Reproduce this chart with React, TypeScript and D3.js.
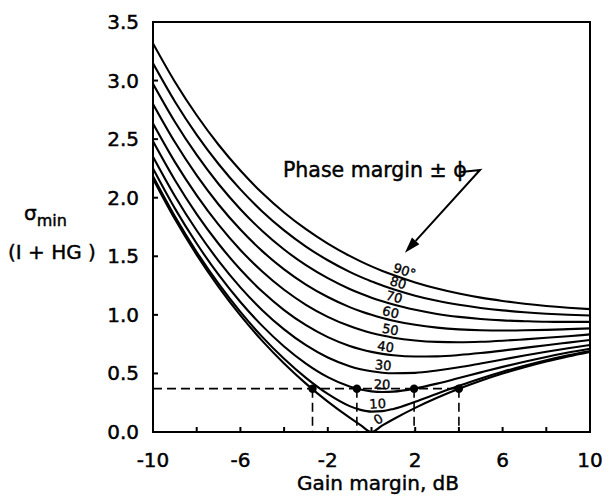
import React from "react";
import * as d3 from "d3";

const gainDb = [-10, -9, -8, -7, -6, -5, -4, -3, -2, -1, -0.5, 0, 0.5, 1, 2, 3, 4, 5, 6, 7, 8, 9, 10];

const phase0 = [2.162, 1.818, 1.512, 1.239, 0.995, 0.778, 0.585, 0.413, 0.259, 0.122, 0.059, 0.0, 0.056, 0.109, 0.206, 0.292, 0.369, 0.438, 0.499, 0.553, 0.602, 0.645, 0.684];
const phase10 = [2.184, 1.842, 1.537, 1.266, 1.025, 0.812, 0.625, 0.462, 0.325, 0.221, 0.189, 0.174, 0.178, 0.197, 0.258, 0.327, 0.394, 0.457, 0.514, 0.565, 0.612, 0.654, 0.691];
const phase20 = [2.249, 1.909, 1.609, 1.343, 1.11, 0.906, 0.73, 0.584, 0.468, 0.388, 0.362, 0.347, 0.342, 0.345, 0.372, 0.413, 0.461, 0.509, 0.556, 0.6, 0.641, 0.678, 0.711];
const phase30 = [2.35, 2.015, 1.72, 1.461, 1.235, 1.04, 0.876, 0.741, 0.636, 0.562, 0.536, 0.518, 0.506, 0.501, 0.505, 0.525, 0.552, 0.585, 0.619, 0.653, 0.685, 0.715, 0.743];
const phase40 = [2.481, 2.151, 1.86, 1.607, 1.387, 1.199, 1.041, 0.912, 0.81, 0.735, 0.707, 0.684, 0.667, 0.655, 0.644, 0.646, 0.657, 0.674, 0.695, 0.718, 0.741, 0.763, 0.785];
const phase50 = [2.633, 2.306, 2.02, 1.77, 1.554, 1.37, 1.214, 1.086, 0.983, 0.904, 0.872, 0.845, 0.823, 0.805, 0.781, 0.769, 0.766, 0.77, 0.779, 0.791, 0.804, 0.818, 0.833];
const phase60 = [2.8, 2.475, 2.19, 1.942, 1.728, 1.544, 1.388, 1.258, 1.152, 1.066, 1.031, 1.0, 0.973, 0.95, 0.915, 0.891, 0.876, 0.868, 0.866, 0.868, 0.872, 0.878, 0.885];
const phase70 = [2.973, 2.649, 2.365, 2.117, 1.902, 1.716, 1.558, 1.424, 1.313, 1.221, 1.182, 1.147, 1.116, 1.088, 1.043, 1.008, 0.983, 0.965, 0.953, 0.946, 0.941, 0.94, 0.94];
const phase80 = [3.147, 2.822, 2.537, 2.288, 2.071, 1.883, 1.721, 1.583, 1.466, 1.367, 1.324, 1.286, 1.25, 1.219, 1.164, 1.12, 1.086, 1.059, 1.038, 1.022, 1.01, 1.001, 0.995];
const phase90 = [3.317, 2.99, 2.704, 2.452, 2.232, 2.04, 1.874, 1.731, 1.608, 1.503, 1.457, 1.414, 1.375, 1.34, 1.277, 1.225, 1.182, 1.147, 1.119, 1.095, 1.076, 1.061, 1.049];

const curveLabels = ["0", "10", "20", "30", "40", "50", "60", "70", "80", "90°"];
const curveLabelDb = [0.48, 0.3, 0.48, 0.5, 0.6, 0.8, 0.8, 0.95, 1.12, 1.4];

const xTickLabels = [-10, -6, -2, 2, 6, 10];
const xMinorTicks = [-8, -6, -4, -2, 0, 2, 4, 6, 8];
const yTickLabels = [0, 0.5, 1.0, 1.5, 2.0, 2.5, 3.0, 3.5];

const markerLevel = 0.37;
const markerDb = [-2.7, -0.67, 1.95, 4.0];
const arrowTip = { db: 1.53, sigma: 1.53 };

const W = 612;
const H = 498;
const FONT = "'DejaVu Sans', sans-serif";

export default function App() {
  const series = [phase0, phase10, phase20, phase30, phase40, phase50, phase60, phase70, phase80, phase90];
  const x = d3.scaleLinear().domain([-10, 10]).range([153, 590]);
  const y = d3.scaleLinear().domain([0, 3.5]).range([432, 22]);
  const line = d3
    .line<number>()
    .x((_, i) => x(gainDb[i]))
    .y((d) => y(d))
    .curve(d3.curveMonotoneX);

  const interp = (vals: number[], db: number) => {
    let i = d3.bisectRight(gainDb, db) - 1;
    i = Math.min(gainDb.length - 2, Math.max(0, i));
    const t = (db - gainDb[i]) / (gainDb[i + 1] - gainDb[i]);
    return vals[i] + (vals[i + 1] - vals[i]) * t;
  };

  const [x0, x1] = x.range();
  const [yb, yt] = y.range();

  const tipX = x(arrowTip.db);
  const tipY = y(arrowTip.sigma);
  const cornerX = 480;
  const cornerY = 170;
  const ang = Math.atan2(tipY - cornerY, tipX - cornerX);
  const aL = 16;
  const aW = 5;
  const bx = tipX - aL * Math.cos(ang);
  const by = tipY - aL * Math.sin(ang);
  const arrowPts = [
    [tipX, tipY],
    [bx + aW * Math.sin(ang), by - aW * Math.cos(ang)],
    [bx - aW * Math.sin(ang), by + aW * Math.cos(ang)],
  ]
    .map((p) => p.join(","))
    .join(" ");

  const textStroke = { stroke: "#000", strokeWidth: 0.45 };

  return (
    <svg
      width={W}
      height={H}
      style={{ position: "absolute", left: 0, top: 0, background: "#fff" }}
      fontFamily={FONT}
    >
      <rect x={0} y={0} width={W} height={H} fill="#fff" />
      <defs>
        <clipPath id="plotclip">
          <rect x={x0} y={yt} width={x1 - x0} height={yb - yt} />
        </clipPath>
      </defs>

      {/* curves */}
      <g clipPath="url(#plotclip)">
        {series.map((s, k) => (
          <path key={k} d={line(s) || ""} fill="none" stroke="#000" strokeWidth={2.1} />
        ))}
      </g>

      {/* dashed construction lines */}
      <g stroke="#000" strokeWidth={1.6} strokeDasharray="9,5" fill="none">
        <line x1={x0} x2={x(markerDb[markerDb.length - 1])} y1={y(markerLevel)} y2={y(markerLevel)} />
        {markerDb.map((d, i) => (
          <line key={i} x1={x(d)} x2={x(d)} y1={y(markerLevel)} y2={yb} />
        ))}
      </g>
      {markerDb.map((d, i) => (
        <circle key={i} cx={x(d)} cy={y(markerLevel)} r={4.2} fill="#000" />
      ))}

      {/* curve labels */}
      {series.map((s, k) => {
        const db = curveLabelDb[k];
        const v = interp(s, db);
        const px = x(db);
        const py = y(v);
        const dy = y(interp(s, db + 0.4)) - y(interp(s, db - 0.4));
        const dx = x(db + 0.4) - x(db - 0.4);
        const rot = (Math.atan2(dy, dx) * 180) / Math.PI;
        return (
          <text
            key={k}
            x={px}
            y={py - 3}
            fontSize={13}
            textAnchor="middle"
            transform={`rotate(${rot},${px},${py})`}
            fill="#000"
            stroke="#000"
            strokeWidth={0.35}
          >
            {curveLabels[k]}
          </text>
        );
      })}

      {/* frame */}
      <rect x={x0} y={yt} width={x1 - x0} height={yb - yt} fill="none" stroke="#000" strokeWidth={2} />

      {/* ticks */}
      {xMinorTicks.map((t) => (
        <line key={t} x1={x(t)} x2={x(t)} y1={yb} y2={yb - 5} stroke="#000" strokeWidth={2} />
      ))}
      {yTickLabels.slice(1, -1).map((t) => (
        <line key={t} x1={x0} x2={x0 + 5} y1={y(t)} y2={y(t)} stroke="#000" strokeWidth={2} />
      ))}

      {/* tick labels */}
      {xTickLabels.map((t) => (
        <text key={t} x={x(t)} y={467} fontSize={20} textAnchor="middle" fill="#000" {...textStroke}>
          {t}
        </text>
      ))}
      {yTickLabels.map((t) => (
        <text key={t} x={x0 - 14} y={y(t) + 7} fontSize={20} textAnchor="end" fill="#000" {...textStroke}>
          {t.toFixed(1)}
        </text>
      ))}

      {/* axis titles */}
      <text x={297} y={490} fontSize={20} fill="#000" {...textStroke}>
        Gain margin, dB
      </text>
      <text x={24} y={220} fontSize={20} fill="#000" {...textStroke}>
        σ
        <tspan fontSize={16} dy={6}>
          min
        </tspan>
      </text>
      <text x={8} y={259} fontSize={20} fill="#000" {...textStroke}>
        (I + HG )
      </text>

      {/* annotation */}
      <text x={283} y={177} fontSize={20.5} fill="#000" {...textStroke}>
        Phase margin ± ϕ
      </text>
      <polyline
        points={`461,172 ${cornerX},${cornerY} ${bx},${by}`}
        fill="none"
        stroke="#000"
        strokeWidth={2}
      />
      <polygon points={arrowPts} fill="#000" />
    </svg>
  );
}
